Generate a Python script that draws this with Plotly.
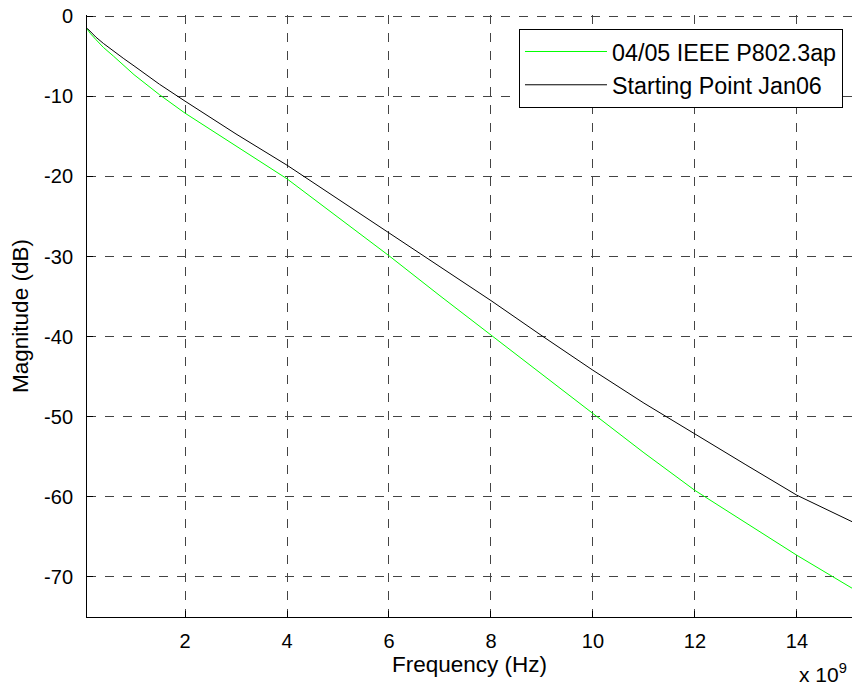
import plotly.graph_objects as go

# Frequency in units of 1e9 Hz
freq = [0.08, 0.15, 0.25, 0.4, 0.6, 0.8, 1, 1.5, 2, 3, 4, 5, 6, 7, 8, 9, 10, 11, 12, 13, 14, 15.08]
ieee_p8023ap = [-1.6, -2.2, -2.9, -3.9, -5.0, -6.2, -7.3, -9.8, -12.1, -16.2, -20.3, -25.1,
                -29.9, -34.9, -39.8, -44.8, -49.7, -54.5, -59.2, -63.3, -67.3, -71.4]
start_jan06 = [-1.5, -2.0, -2.6, -3.4, -4.4, -5.3, -6.2, -8.5, -10.6, -14.7, -18.6, -22.8,
               -27.0, -31.3, -35.5, -39.9, -44.2, -48.3, -52.2, -56.0, -59.8, -63.1]
x_ticks = [2, 4, 6, 8, 10, 12, 14]
y_ticks = [0, -10, -20, -30, -40, -50, -60, -70]

FONT = "Liberation Sans, Arial, sans-serif"

fig = go.Figure()
fig.add_trace(go.Scatter(x=freq, y=ieee_p8023ap, mode="lines", name="04/05 IEEE P802.3ap",
                         line=dict(color="#00ff00", width=1), legendgroup="a"))
fig.add_trace(go.Scatter(x=freq, y=start_jan06, mode="lines", name="Starting Point Jan06",
                         line=dict(color="#000000", width=1), legendgroup="b"))

fig.update_layout(
    width=852, height=691,
    margin=dict(l=87, r=0, t=14.8, b=74),
    paper_bgcolor="white", plot_bgcolor="white",
    font=dict(family=FONT, size=20, color="black"),
    showlegend=True,
    legend=dict(x=0.5647, y=0.977, xanchor="left", yanchor="top",
                bordercolor="black", borderwidth=1, bgcolor="white",
                font=dict(size=23.3, family=FONT), tracegroupgap=0,
                itemwidth=82),
    xaxis=dict(range=[0.078, 15.08], tickvals=x_ticks, ticktext=[str(v) for v in x_ticks],
               ticks="inside", ticklen=6, tickcolor="black", ticklabelstandoff=6,
               ticklabeloverflow="allow",
               showline=True, linecolor="black", linewidth=1,
               showgrid=True, gridcolor="#444", griddash="dash", gridwidth=1,
               zeroline=False, automargin=False,
               title=dict(text="Frequency (Hz)", font=dict(size=22.5), standoff=3),
               tickfont=dict(size=20)),
    xaxis2=dict(range=[0.078, 15.08], overlaying="x", side="top", tickvals=x_ticks,
                ticks="inside", ticklen=6, tickcolor="black", showticklabels=False,
                showline=False, showgrid=False, zeroline=False, automargin=False),
    yaxis=dict(range=[-75, 0.15], tickvals=y_ticks, ticktext=[str(v) for v in y_ticks],
               ticks="inside", ticklen=6, tickcolor="black", ticklabelstandoff=9,
               ticklabeloverflow="allow",
               showline=True, linecolor="black", linewidth=1,
               showgrid=True, gridcolor="#444", griddash="dash", gridwidth=1,
               zeroline=False, automargin=False,
               title=dict(text="Magnitude (dB)", font=dict(size=22.5), standoff=9),
               tickfont=dict(size=20)),
)

fig.add_annotation(text="x 10<sup>9</sup>", xref="paper", yref="paper",
                   x=1.0, y=-0.1185, xanchor="right", yanchor="bottom", xshift=-3,
                   showarrow=False, font=dict(size=21, family=FONT))

fig.write_html("out.html", config={"displayModeBar": False},
               post_script="document.body.style.margin='0';document.body.style.overflow='hidden';")
